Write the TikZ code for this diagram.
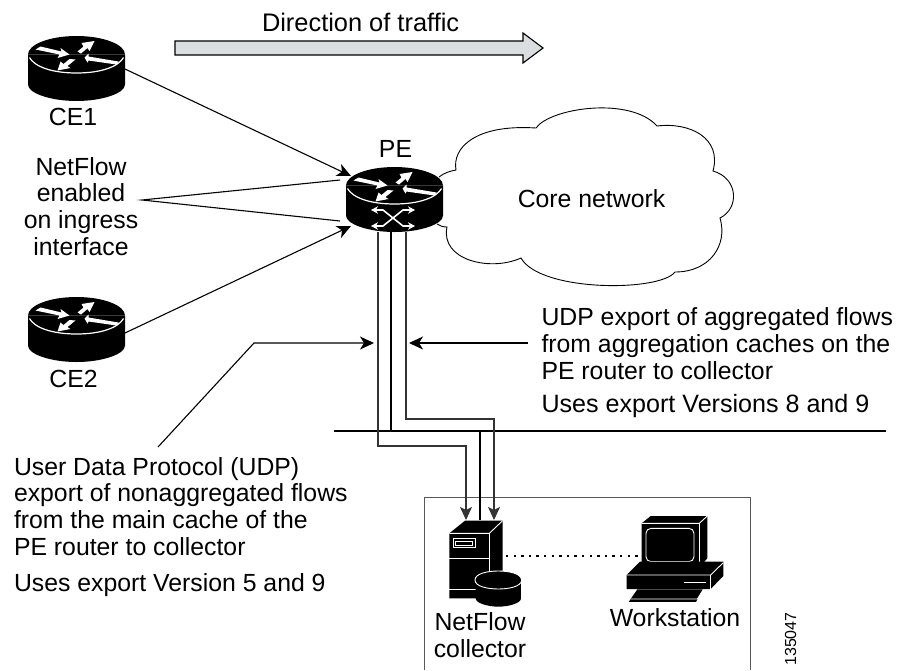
\documentclass[tikz,border=0pt]{standalone}
\usepackage{fontspec}
\setmainfont{Liberation Sans}
\usetikzlibrary{arrows.meta}
\definecolor{arrowgray}{HTML}{DCDDDE}
\tikzset{
  x=1pt,y=-1pt,
  lab/.style={inner sep=0pt,outer sep=0pt,anchor=base west,font=\fontsize{24.8}{26.6}\selectfont,align=left},
  labc/.style={lab,anchor=base,align=center},
  thin line/.style={line width=1.1pt,draw=black!80},
  thick line/.style={line width=2.8pt,draw=black},
  lead/.style={line width=1.1pt,draw=black},
  leadarrow/.style={lead,-{Stealth[length=14pt,width=13pt,inset=4pt]}},
  wline/.style={draw=white,line width=1.2pt},
  routerbody/.pic={
    \fill[black] (-48.5,0) -- (-48.5,30) .. controls (-48.5,39) and (-25,46.5) .. (0,46.5) .. controls (25,46.5) and (48.5,39) .. (48.5,30) -- (48.5,0) -- cycle;
    \fill[black] (-48.5,0) .. controls (-48.5,-10) and (-27,-18.5) .. (0,-18.5) .. controls (27,-18.5) and (48.5,-10) .. (48.5,0) -- cycle;
    \draw[wline] (-47,3) .. controls (-42,12) and (-25,18.5) .. (0,18.5) .. controls (25,18.5) and (42,12) .. (47,3);
    \fill[white] (-41,-5) -- (-36,-8) -- (-15,-3) -- (-16,-6.5) -- (-7,0) -- (-19,3.5) -- (-17,0) -- cycle;
    \fill[white] (1,-3) -- (7,-8) -- (5,-11.5) -- (18,-13.5) -- (13,-3.5) -- (11,-6.5) -- (4.5,-1) -- cycle;
    \fill[white] (8,3) -- (12,-1) -- (12,2) -- (42,7) -- (40,10) -- (12,6) -- (11,8) -- cycle;
    \fill[white] (-19,16) -- (-16,7) -- (-13,9.5) -- (-7,4.5) -- (-1,5) -- (-9,11.5) -- (-6,13.5) -- cycle;
  }
}
\begin{document}
\begin{tikzpicture}
\useasboundingbox (0,0) rectangle (899,670);
% collector enclosure
\draw[line width=1pt,draw=black!65] (424,670) -- (424,497) -- (750,497) -- (750,670);
% traffic arrow
\draw[fill=arrowgray,line width=1.1pt,line join=miter] (175,41) -- (523,41) -- (523,33) -- (543,48) -- (523,63) -- (523,55) -- (175,55) -- cycle;
\node[lab,font=\fontsize{25.4}{26.6}\selectfont] (traffic) at (262,31) {Direction of traffic};
% cloud
\draw[line width=.9pt,fill=white] (439,177)
 .. controls (444,173) and (450,171) .. (456,170)
 .. controls (452,148) and (475,124) .. (536,128)
 .. controls (550,108) and (630,96) .. (657,126)
 .. controls (690,122) and (722,138) .. (713,171)
 .. controls (738,178) and (740,208) .. (720,218)
 .. controls (728,245) and (710,272) .. (675,272)
 .. controls (660,292) and (540,292) .. (521,258)
 .. controls (490,272) and (440,260) .. (447,227)
 .. controls (443,227) and (440,226) .. (437,224);
\node[labc] (core) at (591.5,207) {Core network};
% routers
\pic at (76.5,54.5) {routerbody};
\pic at (76.5,315.5) {routerbody};
\pic at (394.5,185.5) {routerbody};
\node[inner sep=0pt,minimum width=97pt,minimum height=65pt] (ce1) at (76.5,68) {};
\node[inner sep=0pt,minimum width=97pt,minimum height=65pt] (ce2) at (76.5,329) {};
\node[inner sep=0pt,minimum width=97pt,minimum height=65pt] (pe) at (394.5,199) {};
% PE X symbol
\draw[draw=white,line width=1.6pt,<->,>={Stealth[length=7pt,width=7.5pt]}] (371,210) -- (383,210) -- (403,226) -- (415,226);
\draw[draw=white,line width=1.6pt,<->,>={Stealth[length=7pt,width=7.5pt]}] (371,226) -- (383,226) -- (403,210) -- (415,210);
\node[labc] (ce1lab) at (73,125) {CE1};
\node[labc] (ce2lab) at (73.5,387) {CE2};
\node[labc] (pelab) at (395.5,157) {PE};
\node[labc] (nf) at (81,255) {NetFlow\\enabled\\on ingress\\interface};
% connector coordinates
\coordinate (a1) at (125,69); \coordinate (a2) at (351,176);
\coordinate (b1) at (125,333); \coordinate (b2) at (351,226);
\coordinate (n0) at (142,200); \coordinate (n1) at (340,180); \coordinate (n2) at (340,221);
\draw[leadarrow] (a1) -- (a2);
\draw[leadarrow] (b1) -- (b2);
\draw[lead] (n1) -- (n0) -- (n2);
% bus
\coordinate (busl) at (334,431); \coordinate (busr) at (886,431);
\draw[line width=2.8pt] (busl) -- (busr);
% export lines
\draw[thick line] (391,232) -- (391,431);
\draw[thick line] (480,431) -- (480,520);
\draw[thin line,-{Stealth[length=13pt,width=12pt,inset=3pt]}] (378,232) -- (378,446) -- (466,446) -- (466,520);
\draw[thin line,-{Stealth[length=13pt,width=12pt,inset=3pt]}] (406,232) -- (406,419) -- (494,419) -- (494,520);
% server
\begin{scope}[shift={(420,490)},x=.3333pt,y=-.3333pt]
  \fill[black] (88,130) -- (135,92) -- (248,92) -- (248,250) -- (208,290) -- (208,325) -- (88,325) -- cycle;
  \draw[wline,line width=.9pt] (88,130) -- (208,130) -- (248,92);
  \draw[wline,line width=.9pt] (208,130) -- (208,245);
  \draw[wline,line width=.9pt] (88,205) -- (208,205);
  \draw[wline,line width=.9pt] (88,298) -- (170,298);
  \draw[wline,line width=.9pt] (100,145) rectangle (165,173);
  \draw[wline,line width=.9pt] (107,153) rectangle (158,165);
  \fill[black] (167,270) .. controls (167,250) and (205,243) .. (235,243) .. controls (265,243) and (303,250) .. (303,270) -- (303,325) .. controls (303,340) and (265,350) .. (235,350) .. controls (205,350) and (167,340) .. (167,325) -- cycle;
  \draw[wline,line width=.9pt] (165,270) .. controls (165,250) and (205,243) .. (235,243) .. controls (265,243) and (305,250) .. (305,270) .. controls (305,290) and (265,297) .. (235,297) .. controls (205,297) and (165,290) .. (165,270);
  % workstation
  \fill[black] (665,100) -- (692,78) -- (862,78) -- (862,205) -- (838,232) -- (665,232) -- cycle;
  \draw[wline,line width=.9pt] (665,100) -- (838,100) -- (862,78);
  \draw[wline,line width=.9pt] (838,100) -- (838,232);
  \draw[wline,line width=.9pt,rounded corners=5pt] (678,115) rectangle (822,215);
  \fill[black] (620,255) -- (660,215) -- (910,215) -- (910,258) -- (872,297) -- (620,297) -- cycle;
  \draw[wline,line width=.9pt] (620,255) -- (872,255) -- (910,218);
  \draw[wline,line width=.9pt] (872,255) -- (872,297);
  \draw[wline,line width=1.1pt] (793,278) -- (858,278);
  \fill[black] (626,336) -- (652,298) -- (848,298) -- (828,336) -- cycle;
  \draw[wline,line width=.8pt] (632,327) -- (832,327) -- (846,305);
\end{scope}
\coordinate (dl) at (506,556); \coordinate (dr) at (638,556);
\draw[line width=2.4pt,dash pattern=on 2.4pt off 5.2pt] (dl) -- (dr);
\node[labc] (nfc) at (480,657) {NetFlow\\collector};
\node[labc] (ws) at (675,626) {Workstation};
% right text
\node[lab] (r1) at (541.5,379) {UDP export of aggregated flows\\from aggregation caches on the\\PE router to collector};
\node[lab,font=\fontsize{25.1}{26.6}\selectfont] (r2) at (541.5,412) {Uses export Versions 8 and 9};
\coordinate (r0) at (528,343); \coordinate (r3) at (409,343);
\draw[leadarrow] (r0) -- (r3);
% left text
\node[lab] (l1) at (14,555) {User Data Protocol (UDP)\\export of nonaggregated flows\\from the main cache of the\\PE router to collector};
\node[lab] (l2) at (14,591) {Uses export Version 5 and 9};
\coordinate (l0) at (158,447); \coordinate (l3) at (254,343); \coordinate (l4) at (374,343);
\draw[leadarrow] (l0) -- (l3) -- (l4);
\node[inner sep=0pt,rotate=90,anchor=base,font=\fontsize{16}{17}\selectfont] (id) at (796,639) {135047};
\end{tikzpicture}
\end{document}
